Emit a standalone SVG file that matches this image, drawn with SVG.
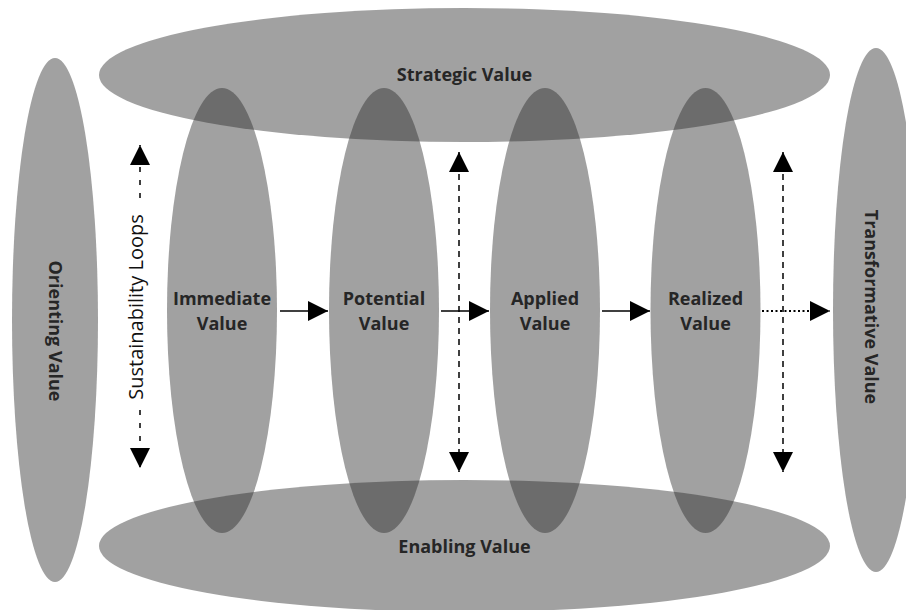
<svg xmlns="http://www.w3.org/2000/svg" width="906" height="610" viewBox="0 0 906 610">
<style>
.shape{fill:#282828;fill-opacity:0.44;stroke:none}
.lbl{font-family:"Open Sans","Liberation Sans",sans-serif;font-weight:700;font-size:18px;fill:#262626;text-anchor:middle}
.loop{font-family:"Open Sans","Liberation Sans",sans-serif;font-weight:400;font-size:20px;fill:#111;text-anchor:middle}
.ln{stroke:#000;stroke-width:1.5;fill:none}
.dash{stroke-dasharray:6 5}
.dot{stroke-dasharray:2 2.5;stroke-width:2}
.loopdash{stroke-dasharray:5 8}
</style>
<defs>
<marker id="ah" markerUnits="userSpaceOnUse" markerWidth="20" markerHeight="20" viewBox="0 0 20 20" refX="20" refY="10" orient="auto-start-reverse">
<path d="M0,0 L20,10 L0,20 Z" fill="#000"/>
</marker>
</defs>
<rect width="906" height="610" fill="#fff"/>
<g id="orienting">
<ellipse class="shape" cx="55" cy="320" rx="43" ry="262"/>
<text class="lbl" transform="translate(55,331) rotate(90)" y="6">Orienting Value</text>
</g>
<g id="transformative">
<ellipse class="shape" cx="876" cy="310" rx="43" ry="262"/>
<text class="lbl" transform="translate(871,307) rotate(90)" y="6">Transformative Value</text>
</g>
<g id="strategic">
<ellipse class="shape" cx="464.5" cy="75" rx="365.5" ry="67"/>
<text class="lbl" x="464.5" y="81">Strategic Value</text>
</g>
<g id="enabling">
<ellipse class="shape" cx="464.5" cy="546" rx="365.5" ry="66"/>
<text class="lbl" x="464.5" y="553">Enabling Value</text>
</g>
<g id="immediate">
<ellipse class="shape" cx="222" cy="310.5" rx="55" ry="222.5"/>
<text class="lbl" x="222" y="305">Immediate</text>
<text class="lbl" x="222" y="330">Value</text>
</g>
<g id="potential">
<ellipse class="shape" cx="384" cy="310.5" rx="55" ry="222.5"/>
<text class="lbl" x="384" y="305">Potential</text>
<text class="lbl" x="384" y="330">Value</text>
</g>
<g id="applied">
<ellipse class="shape" cx="545" cy="310.5" rx="55" ry="222.5"/>
<text class="lbl" x="545" y="305">Applied</text>
<text class="lbl" x="545" y="330">Value</text>
</g>
<g id="realized">
<ellipse class="shape" cx="705.5" cy="310.5" rx="55" ry="222.5"/>
<text class="lbl" x="705.5" y="305">Realized</text>
<text class="lbl" x="705.5" y="330">Value</text>
</g>
<g id="connectors">
<line class="ln" x1="280" y1="311" x2="328" y2="311" marker-end="url(#ah)"/>
<line class="ln" x1="441" y1="311" x2="489" y2="311" marker-end="url(#ah)"/>
<line class="ln" x1="602" y1="311" x2="650" y2="311" marker-end="url(#ah)"/>
<line class="ln dot" x1="762" y1="311" x2="830" y2="311" marker-end="url(#ah)"/>
<line class="ln dash" x1="459" y1="152" x2="459" y2="472" marker-start="url(#ah)" marker-end="url(#ah)"/>
<line class="ln dash" x1="783" y1="152" x2="783" y2="472" marker-start="url(#ah)" marker-end="url(#ah)"/>
<path class="ln loopdash" d="M140,198 L140,145" marker-end="url(#ah)"/>
<path class="ln loopdash" d="M140,410 L140,468" marker-end="url(#ah)"/>
<text class="loop" transform="translate(143,307) rotate(-90)">Sustainability Loops</text>
</g>
</svg>
